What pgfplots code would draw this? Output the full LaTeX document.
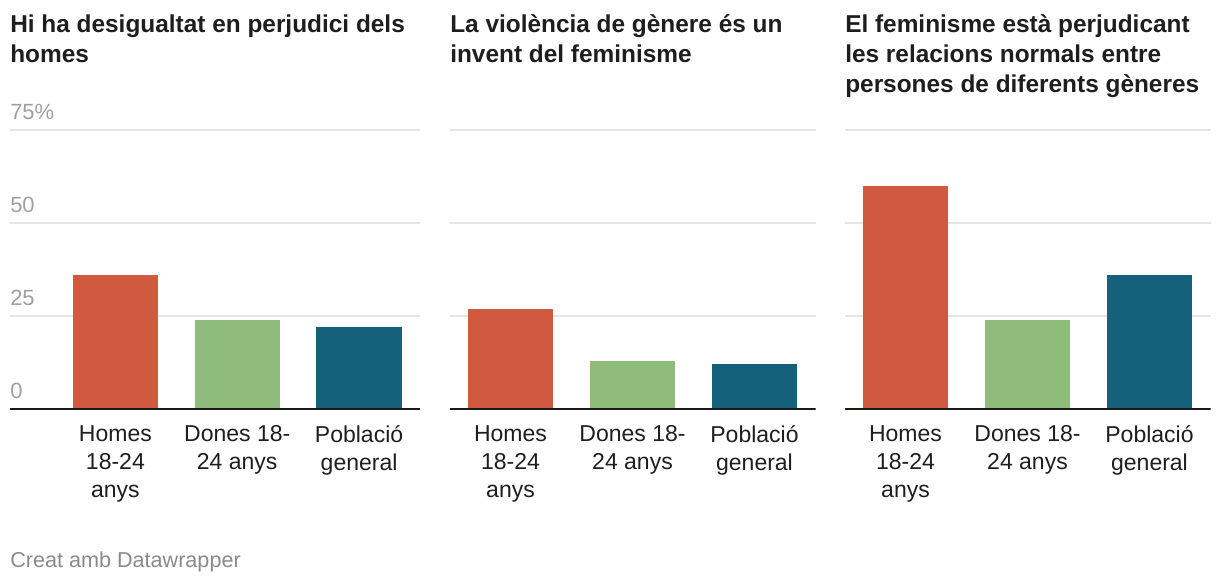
\documentclass[border=0pt]{standalone}
\usepackage{fontspec}
\setmainfont{Liberation Sans}
\usepackage{pgfplots}
\pgfplotsset{compat=1.18}

\definecolor{cRed}{HTML}{D05A40}
\definecolor{cGreen}{HTML}{8FBC7A}
\definecolor{cBlue}{HTML}{15617B}
\definecolor{cGrid}{HTML}{E5E5E5}
\definecolor{cTick}{HTML}{A0A0A0}
\definecolor{cBase}{HTML}{1A1A1A}
\definecolor{cText}{HTML}{1E1E1E}
\definecolor{cFoot}{HTML}{8A8A8A}

% 1px of the reference = 0.75pt
\pgfplotsset{
  panel/.style={
    scale only axis,
    height=209.25pt,
    anchor=south west,
    ymin=0, ymax=75, xmax=2.5,
    axis line style={draw=none},
    tick style={draw=none},
    ymajorgrids,
    ytick={0,25,50,75},
    major grid style={cGrid, line width=1pt},
    yticklabels={},
    xtick={0,1,2},
    xticklabels={{Homes\\18-24\\anys},{Dones 18-\\24 anys},{Població\\general}},
    xticklabel style={align=center, anchor=north, inner sep=0pt, yshift=-12pt,
      font=\fontsize{17.25}{21}\selectfont, text=cText},
  },
  bar/.style={ybar, bar width=0.7, bar shift=0pt, draw=none, fill=#1},
}

\begin{document}
\begin{tikzpicture}
\path[use as bounding box] (0,0) rectangle (915pt,436.5pt);

% panel 1
\begin{axis}[panel, at={(7.5pt,129.75pt)}, width=307.5pt, xmin=-0.865,
  yticklabels={0,25,50,75\%},
  yticklabel style={anchor=base west, inner sep=0pt, yshift=8.25pt,
    text=cTick, font=\fontsize{16.5}{18}\selectfont}]
  \addplot[bar=cRed] coordinates {(0,36)};
  \addplot[bar=cGreen] coordinates {(1,24)};
  \addplot[bar=cBlue] coordinates {(2,22)};
  \draw[cBase, line width=1.5pt] (rel axis cs:0,0) -- (rel axis cs:1,0);
\end{axis}

% panel 2
\begin{axis}[panel, at={(337.125pt,129.75pt)}, width=274.5pt, xmin=-0.5]
  \addplot[bar=cRed] coordinates {(0,27)};
  \addplot[bar=cGreen] coordinates {(1,13)};
  \addplot[bar=cBlue] coordinates {(2,12)};
  \draw[cBase, line width=1.5pt] (rel axis cs:0,0) -- (rel axis cs:1,0);
\end{axis}

% panel 3
\begin{axis}[panel, at={(633.375pt,129.75pt)}, width=274.5pt, xmin=-0.5]
  \addplot[bar=cRed] coordinates {(0,60)};
  \addplot[bar=cGreen] coordinates {(1,24)};
  \addplot[bar=cBlue] coordinates {(2,36)};
  \draw[cBase, line width=1.5pt] (rel axis cs:0,0) -- (rel axis cs:1,0);
\end{axis}

% titles
\tikzset{ttl/.style={anchor=base west, inner sep=0pt, text=cText,
  font=\fontsize{18.3}{22.5}\selectfont\bfseries}}
\node[ttl] at (7.5pt,411.75pt) {Hi ha desigualtat en perjudici dels};
\node[ttl] at (7.5pt,389.25pt) {homes};
\node[ttl] at (337.5pt,411.75pt) {La violència de gènere és un};
\node[ttl] at (337.5pt,389.25pt) {invent del feminisme};
\node[ttl] at (633.75pt,411.75pt) {El feminisme està perjudicant};
\node[ttl] at (633.75pt,389.25pt) {les relacions normals entre};
\node[ttl] at (633.75pt,366.75pt) {persones de diferents gèneres};

\node[anchor=base west, inner sep=0pt, text=cFoot, font=\fontsize{16.2}{18}\selectfont]
  at (7.5pt,11.25pt) {Creat amb Datawrapper};
\end{tikzpicture}
\end{document}
